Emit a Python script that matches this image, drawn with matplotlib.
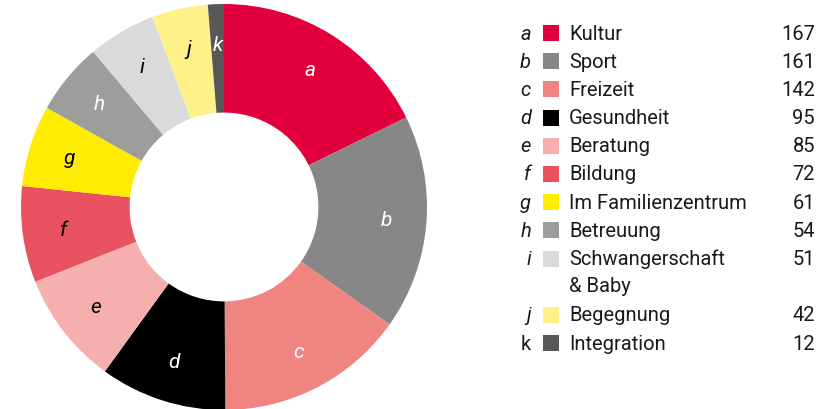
import matplotlib
matplotlib.use('Agg')
import matplotlib.pyplot as plt
import matplotlib.patches as mpatches
import numpy as np

plt.rcParams['font.family'] = ['Roboto', 'DejaVu Sans']

# ── Data ──────────────────────────────────────────────────────────────────────
letters = ['a', 'b', 'c', 'd', 'e', 'f', 'g', 'h', 'i', 'j', 'k']
categories = ['Kultur', 'Sport', 'Freizeit', 'Gesundheit', 'Beratung', 'Bildung',
              'Im Familienzentrum', 'Betreuung', 'Schwangerschaft\n& Baby',
              'Begegnung', 'Integration']
counts = [167, 161, 142, 95, 85, 72, 61, 54, 51, 42, 12]

colors = ['#E2003C', '#878787', '#F08480', '#000000', '#F5AFAD', '#E85260',
          '#FFEC00', '#9D9D9C', '#DADADA', '#FFF18A', '#575756']
label_colors = ['white', 'white', 'white', 'white', 'black', 'black',
                'black', 'white', 'black', 'black', 'white']

W, H = 827, 410
fig = plt.figure(figsize=(W / 100, H / 100), dpi=100, facecolor='white')

# ── Donut ─────────────────────────────────────────────────────────────────────
CX, CY, R = 224, 208, 203
ax = fig.add_axes([(CX - R) / W, (H - CY - R) / H, 2 * R / W, 2 * R / H])
wedges, _ = ax.pie(counts, colors=colors, startangle=90, counterclock=False,
                   radius=1.0, wedgeprops=dict(width=1 - 0.465, linewidth=0))
ax.set_xlim(-1, 1); ax.set_ylim(-1, 1)
ax.set_aspect('equal')
ax.set_axis_off()

for w, lab, lc in zip(wedges, letters, label_colors):
    ang = np.deg2rad((w.theta1 + w.theta2) / 2)
    r = 0.8
    ax.text(r * np.cos(ang), r * np.sin(ang), lab, color=lc, fontsize=15,
            style='italic', ha='center', va='center')

# ── Legend ────────────────────────────────────────────────────────────────────
lg = fig.add_axes([0, 0, 1, 1])
lg.set_xlim(0, W); lg.set_ylim(H, 0)
lg.set_axis_off()

TXT = '#1A1A1A'
FS = 14.5
y0, step = 34, 28.2
row = 0
for lab, cat, n, col in zip(letters, categories, counts, colors):
    y = y0 + step * row
    lg.text(531, y, lab, ha='right', va='center', fontsize=FS, color=TXT,
            style='normal' if lab == 'k' else 'italic')
    lg.add_patch(mpatches.Rectangle((543, y - 8), 16, 16, facecolor=col,
                                    edgecolor='none'))
    lines = cat.split('\n')
    for k, line in enumerate(lines):
        lg.text(569, y + k * 26.5, line, ha='left', va='center',
                fontsize=FS, color=TXT)
    lg.text(815, y, str(n), ha='right', va='center', fontsize=FS, color=TXT)
    row += len(lines)

fig.savefig('out.png', dpi=100, facecolor='white')
